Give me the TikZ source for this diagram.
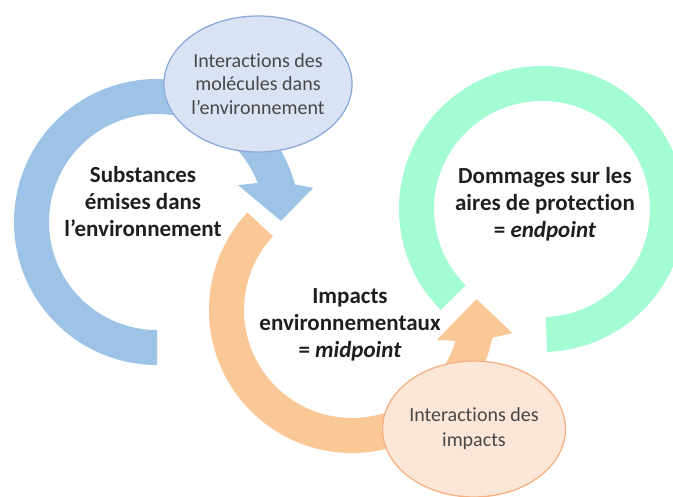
\documentclass[tikz,border=0pt]{standalone}
\usepackage{fontspec}
\setmainfont{Carlito}[Ligatures=NoCommon]
\usepackage{tikz}
\usetikzlibrary{shapes.geometric}

\definecolor{ringblue}{HTML}{9DC3E6}
\definecolor{ringpeach}{HTML}{FAC896}
\definecolor{ringmint}{HTML}{A4FCD5}
\definecolor{bubbleblue}{HTML}{DAE3F3}
\definecolor{edgeblue}{HTML}{8EAADB}
\definecolor{bubblepeach}{HTML}{FCE6D8}
\definecolor{edgepeach}{HTML}{F4B183}

\tikzset{
  stage/.style={align=center, text=black!88, font=\fontsize{23}{27}\selectfont\bfseries},
  bubble/.style={ellipse, align=center, inner sep=0pt, line width=1.3pt,
    minimum width=167pt, minimum height=136pt, text=black!72,
    font=\fontsize{20}{23.5}\selectfont}
}

\begin{document}
\begin{tikzpicture}[x=1pt, y=1pt]
        \useasboundingbox (0,0) rectangle (673,497);
        \clip (0,0) rectangle (673,497);

        % Rings
        \begin{scope}[shift={(542,288)}]
            \fill[ringmint] (225:143pt) arc[start angle=225, end angle=-88, radius=143pt]
                -- (-88:108pt) arc[start angle=-88, end angle=225, radius=108pt] -- cycle;
        \end{scope}
        \begin{scope}[shift={(352,187)}]
            \fill[ringpeach] (137:143pt) arc[start angle=137, end angle=348.8, radius=143pt]
                -- (351.8:162pt) -- (365:125pt) -- (340.6:90pt)
                -- (343.4:108pt) arc[start angle=343.4, end angle=137, radius=108pt] -- cycle;
        \end{scope}
        \begin{scope}[shift={(157,275)}]
            \fill[ringblue] (270:143pt) arc[start angle=270, end angle=15.2, radius=143pt]
                -- (12.3:160pt) -- (0.5:124pt) -- (24.5:89pt)
                -- (21.2:108pt) arc[start angle=21.2, end angle=270, radius=108pt] -- cycle;
        \end{scope}

        % Bubbles
        \node[bubble, draw=edgeblue, fill=bubbleblue] (molecules) at (258,413)
            {Interactions des\\molécules dans\\l’environnement};
        \node[bubble, draw=edgepeach, fill=bubblepeach] (interimpacts) at (474,68)
            {\raisebox{-4pt}{\begin{tabular}{@{}c@{}}Interactions des\\[1.5pt]impacts\end{tabular}}};

        % Stage labels
        \node[stage] (substances) at (143,295) {Substances\\émises dans\\l’environnement};
        \node[stage] (impacts) at (350,172) {Impacts\\environnementaux\\= \textit{midpoint}};
        \node[stage] (dommages) at (545,293) {Dommages sur les\\aires de protection\\= \textit{endpoint}};
    \end{tikzpicture}
\end{document}
